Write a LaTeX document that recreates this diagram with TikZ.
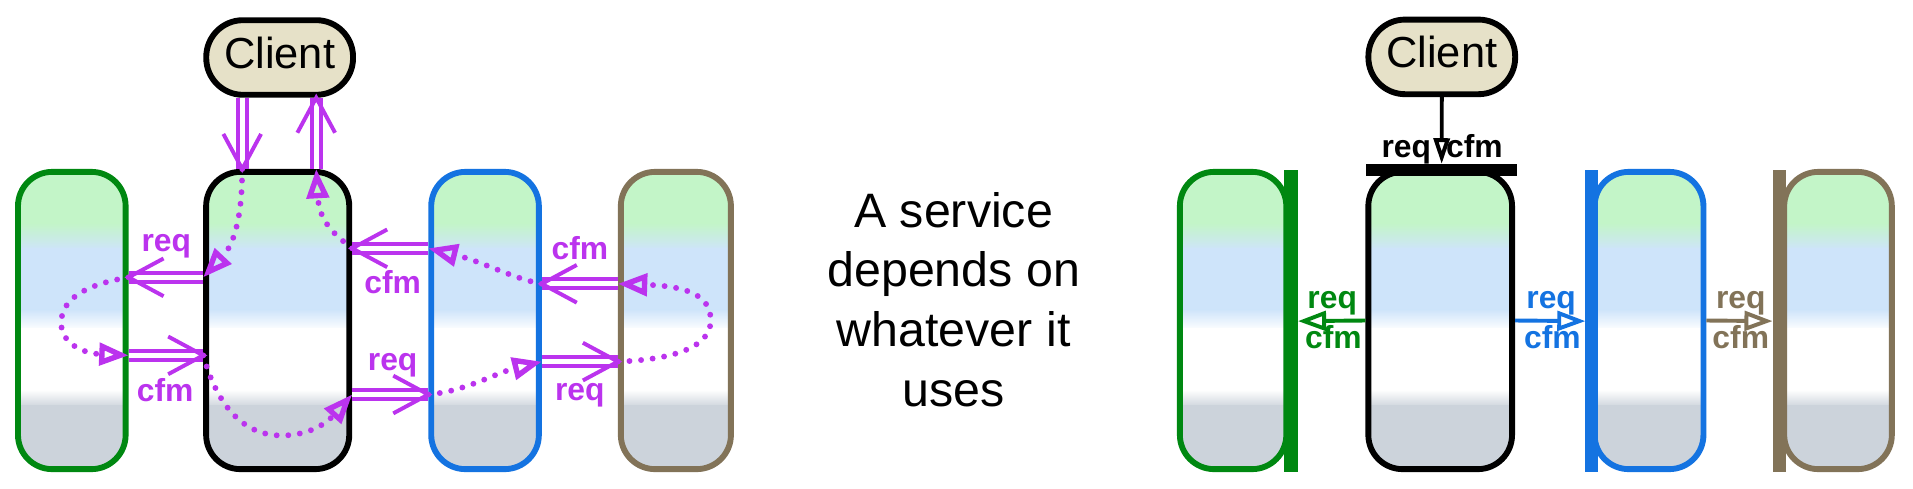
\documentclass[tikz,border=0pt]{standalone}
\usepackage{fontspec}
\setmainfont{Liberation Sans}
\usetikzlibrary{arrows.meta,calc}
\definecolor{cpurple}{RGB}{187,51,238}
\definecolor{cgreen}{RGB}{0,136,17}
\definecolor{cblue}{RGB}{20,115,225}
\definecolor{cbrown}{RGB}{130,115,88}
\definecolor{cbeige}{RGB}{230,225,200}
\definecolor{fgreen}{RGB}{195,245,200}
\definecolor{fblue}{RGB}{206,228,250}
\definecolor{fgray}{RGB}{204,211,219}
\newcommand\bandfill[4]{%
  \shade[sharp corners, top color=#3,bottom color=#4]
    let \p1=(path picture bounding box.north west),
        \p2=(path picture bounding box.south east),
        \n1={\y1-\y2} in
    ({\x1-1pt},{\y1-#1*\n1+0.6pt}) rectangle ({\x2+1pt},{\y1-#2*\n1-0.6pt});}
\newcommand\varr[2]{%
  \draw[dshaft] (#1) -- (#2);
  \draw[vhd] ($(#2)!32.5pt!28.3:(#1)$) -- (#2) -- ($(#2)!32.5pt!-28.3:(#1)$);}
\begin{document}
\begin{tikzpicture}[x=1pt,y=-1pt,
  svc/.style={rectangle, rounded corners=28pt, minimum height=243pt,
    inner sep=0pt, line width=4.8pt,
    path picture={\bandfill{0}{0.175}{fgreen}{fgreen}\bandfill{0.175}{0.26}{fgreen}{fblue}%
      \bandfill{0.26}{0.465}{fblue}{fblue}\bandfill{0.465}{0.53}{fblue}{white}%
      \bandfill{0.53}{0.735}{white}{white}\bandfill{0.735}{0.79}{white}{fgray}%
      \bandfill{0.79}{1}{fgray}{fgray}},
    postaction={draw=#1, line width=4.8pt}},
  client/.style={rectangle, rounded corners=30pt, draw=black, line width=4.8pt, fill=cbeige,
    minimum width=120pt, minimum height=61pt, inner sep=0pt, text height=26pt, text depth=8.2pt,
    font=\fontsize{35.5}{40}\selectfont},
  bar/.style={rectangle, inner sep=0pt, outer sep=0pt},
  lbl/.style={font=\fontsize{26}{30}\selectfont\bfseries, inner sep=0pt, anchor=base},
  txt/.style={font=\fontsize{39.5}{48}\selectfont, inner sep=0pt, anchor=base},
  dshaft/.style={draw=cpurple, double=white, double distance=4pt, line width=3.2pt},
  vhd/.style={draw=cpurple, line width=3.2pt},
  dotp/.style={draw=cpurple, line width=4.8pt, line cap=round, dash pattern=on 0pt off 9.5pt,
    -{Triangle[open, length=24pt, width=18pt, line width=4.4pt]}},
  larr/.style={line width=3.2pt, -{Triangle[open, length=23pt, width=16pt]}}
]
\fill[white] (0,0) rectangle (1563.8,399.7);
\useasboundingbox (0,0) rectangle (1563.8,399.7);

% ---------- left diagram ----------
\node[client] (c1) at (228.6,47) {Client};
\node[svc=cgreen, minimum width=88pt] (g1) at (58.7,262) {};
\node[svc=black, minimum width=117pt] (k1) at (227,262) {};
\node[svc=cblue, minimum width=88pt] (b1) at (396.5,262) {};
\node[svc=cbrown, minimum width=90pt] (n1) at (552.5,262) {};

\varr{c1.south -| 198,0}{k1.north -| 198,0}
\varr{k1.north -| 258.5,0}{c1.south -| 258.5,0}
\varr{k1.west |- 0,226.7}{g1.east |- 0,226.7}
\varr{g1.east |- 0,290.5}{k1.west |- 0,290.5}
\varr{k1.east |- 0,322.5}{b1.west |- 0,322.5}
\varr{b1.east |- 0,295.6}{n1.west |- 0,295.6}
\varr{n1.west |- 0,232}{b1.east |- 0,232}
\varr{b1.west |- 0,203}{k1.east |- 0,203}

\draw[dotp] (k1.north -| 198,0) .. controls (198,172) and (193,198) .. (k1.west |- 0,226.7);
\draw[dotp] (g1.east |- 0,226.7) .. controls (80,231) and (50,240) .. (50,264)
  .. controls (50,282) and (70,289) .. (g1.east |- 0,290.5);
\draw[dotp] (k1.west |- 0,290.5) .. controls (180,340) and (205,356) .. (230,356)
  .. controls (250,356) and (265,348) .. (k1.east |- 0,322.5);
\draw[dotp] (b1.west |- 0,322.5) .. controls (380,320) and (405,305) .. (b1.east |- 0,295.6);
\draw[dotp] (n1.west |- 0,295.6) .. controls (550,294) and (581,284) .. (581,262)
  .. controls (581,243) and (565,234) .. (n1.west |- 0,232);
\draw[dotp] (b1.east |- 0,232) .. controls (420,228) and (395,214) .. (b1.west |- 0,203);
\draw[dotp] (k1.east |- 0,203) .. controls (275,193) and (261,182) .. (k1.north -| 258.5,0);

\node[lbl, text=cpurple] (l1) at (136,205.7) {req};
\node[lbl, text=cpurple] (l2) at (135,328) {cfm};
\node[lbl, text=cpurple] (l3) at (321,240) {cfm};
\node[lbl, text=cpurple] (l4) at (321,302.5) {req};
\node[lbl, text=cpurple] (l5) at (474,212) {cfm};
\node[lbl, text=cpurple] (l6) at (474,327) {req};

% ---------- middle text ----------
\node[txt] (t1) at (779.6,185.8) {A service};
\node[txt] (t2) at (779.6,234.3) {depends on};
\node[txt] (t3) at (779.6,283.4) {whatever it};
\node[txt] (t4) at (779.6,332.4) {uses};

% ---------- right diagram ----------
\node[client] (c2) at (1178.6,46.5) {Client};
\node[svc=cgreen, minimum width=87pt] (g2) at (1008,262) {};
\node[svc=black, minimum width=117.5pt] (k2) at (1177.3,262) {};
\node[svc=cblue, minimum width=89pt] (b2) at (1348,262) {};
\node[svc=cbrown, minimum width=88pt] (n2) at (1502.5,262) {};

\node[bar, fill=black, minimum width=123pt, minimum height=10pt] (kbar) at (1178.5,139) {};
\node[bar, fill=cgreen, minimum width=11pt, minimum height=247pt] (gbar) at (1055.5,262.5) {};
\node[bar, fill=cblue, minimum width=10pt, minimum height=247pt] (bbar) at (1301,262.5) {};
\node[bar, fill=cbrown, minimum width=11pt, minimum height=247pt] (nbar) at (1454.5,262.5) {};

\node[lbl, anchor=base east] (r0a) at (1170,129) {req};
\node[lbl, anchor=base west] (r0b) at (1182,129) {cfm};
\draw[black, line width=3.2pt, -{Triangle[open, length=21pt, width=13pt]}] (c2.south) -- (kbar.north);

\draw[larr, cgreen] (k2.west) -- (gbar.east);
\draw[larr, cblue] (k2.east) -- (bbar.west);
\draw[larr, cbrown] (b2.east) -- (nbar.west);

\node[lbl, text=cgreen] (r1a) at (1089,252) {req};
\node[lbl, text=cgreen] (r1b) at (1090,284.5) {cfm};
\node[lbl, text=cblue] (r2a) at (1268,252) {req};
\node[lbl, text=cblue] (r2b) at (1269,284.5) {cfm};
\node[lbl, text=cbrown] (r3a) at (1423,252) {req};
\node[lbl, text=cbrown] (r3b) at (1423,284.5) {cfm};
\end{tikzpicture}
\end{document}
